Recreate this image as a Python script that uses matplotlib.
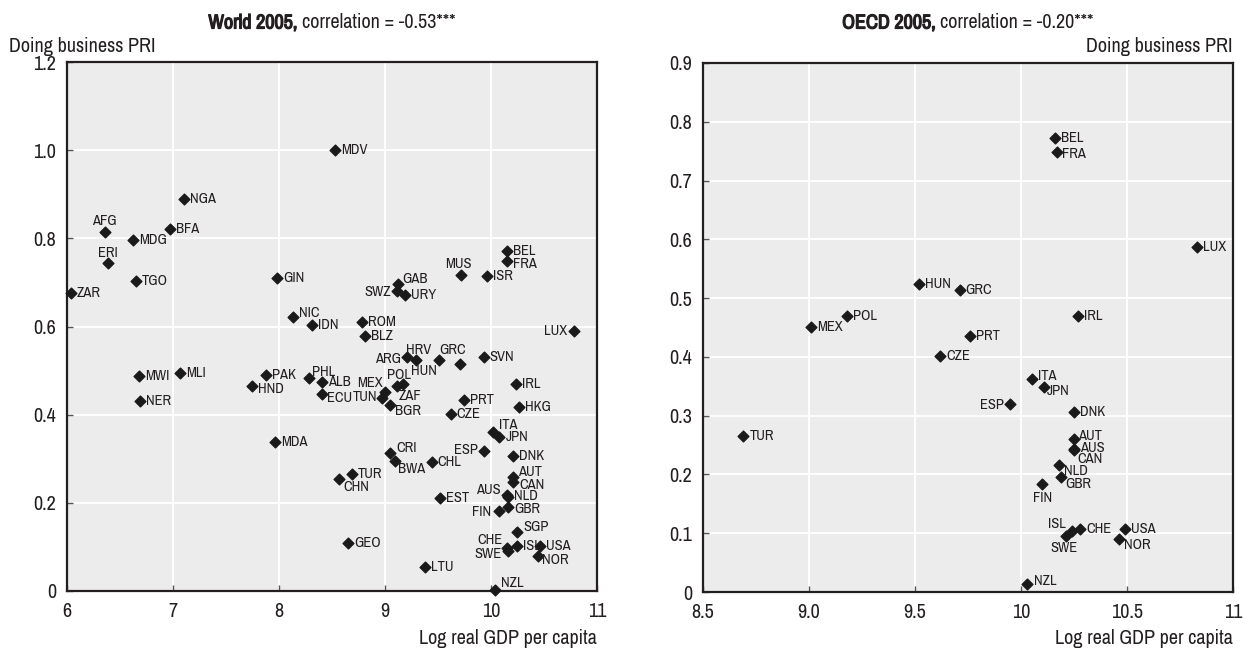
import matplotlib.pyplot as plt
import matplotlib.patheffects as pe
from matplotlib import font_manager

fonts = font_manager.fontManager.ttflist


def weight_of(f):
    w = f.weight
    return w if isinstance(w, int) else font_manager.weight_dict.get(w, 400)


def is_narrow(f):
    return (('Narrow' in f.name or 'Condensed' in f.name
             or f.stretch in ('condensed', 'semi-condensed'))
            and 'Serif' not in f.name and 'Mono' not in f.name)


# a narrow sans face suits the dense labels
narrow = sorted({f.name for f in fonts if is_narrow(f)})
family = (narrow or ['DejaVu Sans'])[0]
has_bold = any(f.name == family and weight_of(f) >= 600 for f in fonts)
plt.rcParams['font.family'] = [family, 'DejaVu Sans']
plt.rcParams['font.stretch'] = 'condensed'
plt.rcParams['text.color'] = '#231f20'

# World 2005
world_codes = ['MDV', 'NGA', 'AFG', 'MDG', 'BFA', 'ERI', 'TGO', 'ZAR', 'GIN', 'NIC',
               'IDN', 'MWI', 'MLI', 'NER', 'PAK', 'HND', 'PHL', 'ALB', 'ECU', 'MDA',
               'BEL', 'FRA', 'MUS', 'ISR', 'GAB', 'SWZ', 'URY', 'ROM', 'BLZ', 'LUX',
               'ARG', 'HRV', 'HUN', 'GRC', 'SVN', 'MEX', 'TUN', 'ZAF', 'POL', 'BGR',
               'PRT', 'IRL', 'HKG', 'CZE', 'ITA', 'JPN', 'ESP', 'DNK', 'CRI', 'BWA',
               'CHL', 'TUR', 'CHN', 'AUT', 'CAN', 'EST', 'AUS', 'NLD', 'FIN', 'GBR',
               'SGP', 'CHE', 'SWE', 'ISL', 'USA', 'NOR', 'GEO', 'LTU', 'NZL']
world_gdp = [8.53, 7.10, 6.36, 6.62, 6.97, 6.39, 6.65, 6.04, 7.98, 8.13,
             8.31, 6.68, 7.07, 6.69, 7.88, 7.75, 8.28, 8.41, 8.41, 7.96,
             10.15, 10.15, 9.72, 9.96, 9.12, 9.11, 9.19, 8.78, 8.81, 10.78,
             9.21, 9.29, 9.51, 9.71, 9.93, 9.00, 8.97, 9.11, 9.17, 9.05,
             9.75, 10.24, 10.26, 9.62, 10.02, 10.08, 9.93, 10.21, 9.05, 9.09,
             9.44, 8.69, 8.57, 10.21, 10.21, 9.52, 10.15, 10.16, 10.08, 10.16,
             10.25, 10.15, 10.16, 10.25, 10.46, 10.44, 8.65, 9.38, 10.04]
world_pri = [1.001, 0.889, 0.814, 0.797, 0.822, 0.744, 0.703, 0.676, 0.710, 0.621,
             0.603, 0.488, 0.494, 0.430, 0.490, 0.466, 0.483, 0.473, 0.447, 0.337,
             0.772, 0.748, 0.717, 0.714, 0.697, 0.680, 0.671, 0.611, 0.579, 0.589,
             0.531, 0.524, 0.524, 0.515, 0.531, 0.452, 0.437, 0.464, 0.470, 0.421,
             0.434, 0.470, 0.417, 0.402, 0.360, 0.349, 0.318, 0.306, 0.314, 0.296,
             0.292, 0.266, 0.254, 0.259, 0.247, 0.212, 0.218, 0.214, 0.182, 0.191,
             0.133, 0.097, 0.091, 0.103, 0.101, 0.079, 0.108, 0.055, 0.002]

# OECD 2005
oecd_codes = ['BEL', 'FRA', 'LUX', 'HUN', 'GRC', 'POL', 'MEX', 'IRL', 'PRT', 'CZE',
              'ITA', 'JPN', 'ESP', 'DNK', 'TUR', 'AUT', 'AUS', 'CAN', 'NLD', 'GBR',
              'FIN', 'ISL', 'SWE', 'CHE', 'USA', 'NOR', 'NZL']
oecd_gdp = [10.16, 10.17, 10.83, 9.52, 9.71, 9.18, 9.01, 10.27, 9.76, 9.62,
            10.05, 10.11, 9.95, 10.25, 8.69, 10.25, 10.25, 10.25, 10.18, 10.19,
            10.10, 10.24, 10.21, 10.28, 10.49, 10.46, 10.03]
oecd_pri = [0.772, 0.748, 0.587, 0.524, 0.514, 0.469, 0.450, 0.469, 0.436, 0.402,
            0.362, 0.349, 0.320, 0.307, 0.266, 0.261, 0.244, 0.241, 0.216, 0.195,
            0.184, 0.104, 0.096, 0.108, 0.108, 0.090, 0.014]

# label placement around each marker: (dx, dy) in pixels, horizontal alignment
# anything not listed sits just to the right of its marker
world_labels = {
    'AFG': (-1, 11, 'center'), 'ERI': (0, 10, 'center'), 'NIC': (6, 4, 'left'),
    'HND': (6, -3, 'left'), 'PHL': (3, 6, 'left'), 'ECU': (5, -4, 'left'),
    'FRA': (6, -3, 'left'), 'MUS': (-3, 11, 'center'), 'GAB': (5, 5, 'left'),
    'SWZ': (-6, -1, 'right'), 'LUX': (-6, 0, 'right'), 'ARG': (-6, -2, 'right'),
    'HRV': (3, 10, 'center'), 'HUN': (-2, -11, 'right'), 'GRC': (-8, 14, 'center'),
    'MEX': (-2, 9, 'right'), 'TUN': (-5, 1, 'right'), 'POL': (-4, 9, 'center'),
    'ZAF': (2, -10, 'left'), 'BGR': (5, -6, 'left'), 'ITA': (6, 7, 'left'),
    'ESP': (-6, 1, 'right'), 'CRI': (6, 5, 'left'), 'BWA': (3, -8, 'left'),
    'CHN': (4, -8, 'left'), 'AUT': (5, 5, 'left'), 'CAN': (6, -3, 'left'),
    'AUS': (-6, 5, 'right'), 'NLD': (6, 1, 'left'), 'FIN': (-8, -1, 'right'),
    'GBR': (6, -2, 'left'), 'SGP': (6, 5, 'left'), 'CHE': (-4, 8, 'right'),
    'SWE': (-6, -3, 'right'), 'NOR': (4, -4, 'left'), 'NZL': (6, 7, 'left')}
oecd_labels = {
    'FRA': (5, -2, 'left'), 'ITA': (6, 3, 'left'), 'JPN': (2, -4, 'left'),
    'ESP': (-7, -1, 'right'), 'AUT': (4, 3, 'left'), 'AUS': (6, 1, 'left'),
    'CAN': (3, -9, 'left'), 'NLD': (5, -6, 'left'), 'GBR': (4, -7, 'left'),
    'FIN': (0, -14, 'center'), 'ISL': (-6, 7, 'right'), 'SWE': (-2, -12, 'center'),
    'NOR': (5, -6, 'left'), 'NZL': (7, 3, 'left')}

W, H = 1244, 652
fig = plt.figure(figsize=(W / 100, H / 100), dpi=100)
ax1 = fig.add_axes([67 / W, 1 - 591 / H, 530 / W, 529 / H])
ax2 = fig.add_axes([703 / W, 1 - 592 / H, 530 / W, 529 / H])


def draw_panel(ax, codes, xs, ys, placement):
    ax.set_facecolor('#ececec')
    ax.grid(color='white', lw=1.3)
    ax.set_axisbelow(True)
    ax.scatter(xs, ys, marker='D', s=30, color='#1a1a1a', zorder=3, clip_on=False)
    for c, x, y in zip(codes, xs, ys):
        dx, dy, ha = placement.get(c, (6, 0, 'left'))
        ax.annotate(c, (x, y), xytext=(dx * 0.72, dy * 0.72), textcoords='offset points',
                    ha=ha, va='center', fontsize=10.5, color='#231f20')
    for s in ax.spines.values():
        s.set_linewidth(1.6)
        s.set_color('#231f20')
    ax.tick_params(direction='in', length=4, width=1, color='#555555',
                   labelsize=14.5, pad=8, labelcolor='#231f20')


draw_panel(ax1, world_codes, world_gdp, world_pri, world_labels)
ax1.set_xlim(6, 11)
ax1.set_ylim(0, 1.2)
ax1.set_xticks([6, 7, 8, 9, 10, 11])
ax1.set_yticks([0, 0.2, 0.4, 0.6, 0.8, 1.0, 1.2])
ax1.set_yticklabels(['0', '0.2', '0.4', '0.6', '0.8', '1.0', '1.2'])

draw_panel(ax2, oecd_codes, oecd_gdp, oecd_pri, oecd_labels)
ax2.set_xlim(8.5, 11)
ax2.set_ylim(0, 0.9)
ax2.set_xticks([8.5, 9.0, 9.5, 10, 10.5, 11])
ax2.set_xticklabels(['8.5', '9.0', '9.5', '10', '10.5', '11'])
ax2.set_yticks([0, 0.1, 0.2, 0.3, 0.4, 0.5, 0.6, 0.7, 0.8, 0.9])
ax2.set_yticklabels(['0', '0.1', '0.2', '0.3', '0.4', '0.5', '0.6', '0.7', '0.8', '0.9'])


def panel_title(ax, bold, rest):
    # bold lead-in followed by regular text, centred over the panel
    y = 1 - 23 / H
    if has_bold:
        t1 = fig.text(0, y, bold, weight='bold', va='center', fontsize=14.5)
    else:
        t1 = fig.text(0, y, bold, va='center', fontsize=14.5,
                      path_effects=[pe.withStroke(linewidth=0.9, foreground='#231f20')])
    t2 = fig.text(0, y, rest, va='center', fontsize=14.5)
    r = fig.canvas.get_renderer()
    w1 = t1.get_window_extent(r).width
    w2 = t2.get_window_extent(r).width
    box = ax.get_window_extent(r)
    x0 = (box.x0 + box.x1) / 2 - (w1 + 5 + w2) / 2
    t1.set_x(x0 / W)
    t2.set_x((x0 + w1 + 5) / W)


fig.canvas.draw()
panel_title(ax1, 'World 2005,', 'correlation = -0.53***')
panel_title(ax2, 'OECD 2005,', 'correlation = -0.20***')

fig.text(9 / W, 1 - 46 / H, 'Doing business PRI', ha='left', va='center', fontsize=14.5)
fig.text(1233 / W, 1 - 46 / H, 'Doing business PRI', ha='right', va='center', fontsize=14.5)
fig.text(597 / W, 1 - 639 / H, 'Log real GDP per capita', ha='right', va='center', fontsize=14.5)
fig.text(1233 / W, 1 - 639 / H, 'Log real GDP per capita', ha='right', va='center', fontsize=14.5)

fig.savefig('out.png', dpi=100)
